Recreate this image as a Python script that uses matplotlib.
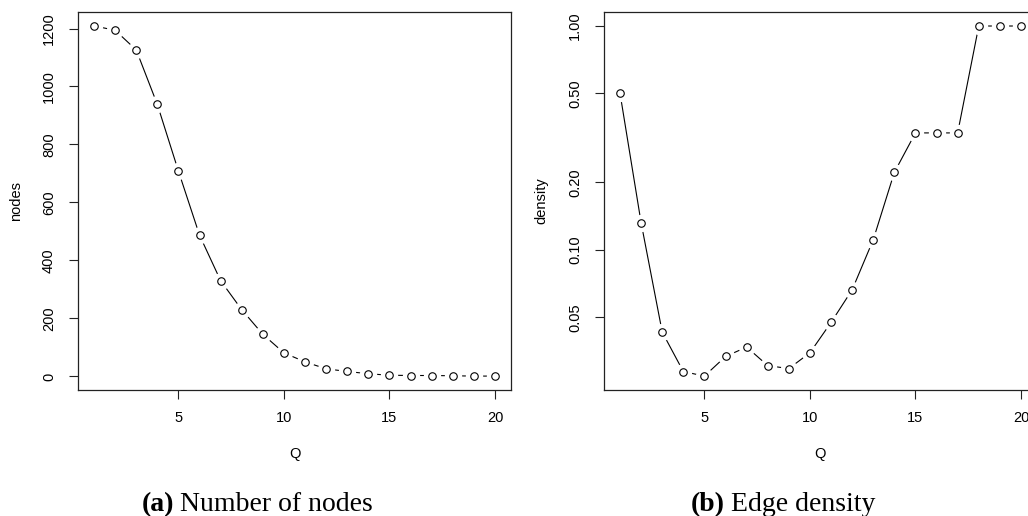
import matplotlib
matplotlib.use("Agg")
import matplotlib.pyplot as plt
from matplotlib.ticker import FixedLocator, FixedFormatter, NullLocator

plt.rcParams['font.family'] = ['Liberation Sans', 'DejaVu Sans']

Q = list(range(1, 21))
nodes = [1209, 1194, 1126, 938, 708, 487, 330, 230, 145, 81,
         50, 26, 17, 9, 4, 3, 3, 2, 1, 1]
density = [0.50, 0.132, 0.0429, 0.0286, 0.0273, 0.0334, 0.0368, 0.0304, 0.0295, 0.0347,
           0.0474, 0.0663, 0.111, 0.222, 0.333, 0.333, 0.333, 1.0, 1.0, 1.0]

x_ticks = [5, 10, 15, 20]
nodes_ticks = [0, 200, 400, 600, 800, 1000, 1200]
density_ticks = [0.05, 0.10, 0.20, 0.50, 1.00]
density_ticklabels = ["0.05", "0.10", "0.20", "0.50", "1.00"]

W, H = 1028, 516
fig = plt.figure(figsize=(W / 100, H / 100), dpi=100)

def px_axes(x0, x1, y0, y1):
    return fig.add_axes([x0 / W, 1 - y1 / H, (x1 - x0) / W, (y1 - y0) / H])

ax1 = px_axes(78, 511, 12, 390)
ax2 = px_axes(604, 1037, 12, 390)

FS = 10.5

def style(ax):
    for s in ax.spines.values():
        s.set_linewidth(0.9)
        s.set_color('#222222')
    ax.tick_params(axis='both', which='major', length=6.3, width=0.8,
                   labelsize=FS, color='#222222')
    ax.tick_params(axis='x', pad=9)
    ax.tick_params(axis='y', pad=9.5)
    ax.set_xlim(0.24, 20.76)
    ax.xaxis.set_major_locator(FixedLocator(x_ticks))

def draw(ax, x, y):
    ax.plot(x, y, color='black', lw=0.8, zorder=2, clip_on=False)
    ax.plot(x, y, ls='none', marker='o', ms=12.5, mfc='white', mec='none',
            zorder=3, clip_on=False)
    ax.plot(x, y, ls='none', marker='o', ms=5.4, mfc='white', mec='black',
            mew=0.8, zorder=4, clip_on=False)

# Panel (a)
draw(ax1, Q, nodes)
style(ax1)
ax1.set_ylim(-47, 1257)
ax1.yaxis.set_major_locator(FixedLocator(nodes_ticks))
for lab in ax1.get_yticklabels():
    lab.set_rotation(90)
    lab.set_va('center')

# Panel (b)
draw(ax2, Q, density)
ax2.set_yscale('log')
style(ax2)
ax2.set_ylim(10 ** -1.626, 10 ** 0.0626)
ax2.yaxis.set_major_locator(FixedLocator(density_ticks))
ax2.yaxis.set_major_formatter(FixedFormatter(density_ticklabels))
ax2.yaxis.set_minor_locator(NullLocator())
for lab in ax2.get_yticklabels():
    lab.set_rotation(90)
    lab.set_va('center')

def ftext(x, y, s, **kw):
    fig.text(x / W, 1 - y / H, s, **kw)

# axis labels
ftext(295, 454, "Q", ha='center', va='center', fontsize=FS)
ftext(820, 454, "Q", ha='center', va='center', fontsize=FS)
ftext(16, 201, "nodes", ha='center', va='center', rotation=90, fontsize=FS)
ftext(541, 201, "density", ha='center', va='center', rotation=90, fontsize=FS)

# captions
cap_fs = 20
cap_y = 511
ftext(174, cap_y, "(a)", ha='right', va='baseline', fontsize=cap_fs,
      family='Liberation Serif', weight='bold')
ftext(180, cap_y, "Number of nodes", ha='left', va='baseline', fontsize=cap_fs,
      family='Liberation Serif')
ftext(725, cap_y, "(b)", ha='right', va='baseline', fontsize=cap_fs,
      family='Liberation Serif', weight='bold')
ftext(731, cap_y, "Edge density", ha='left', va='baseline', fontsize=cap_fs,
      family='Liberation Serif')

fig.savefig("out.png", dpi=100)
